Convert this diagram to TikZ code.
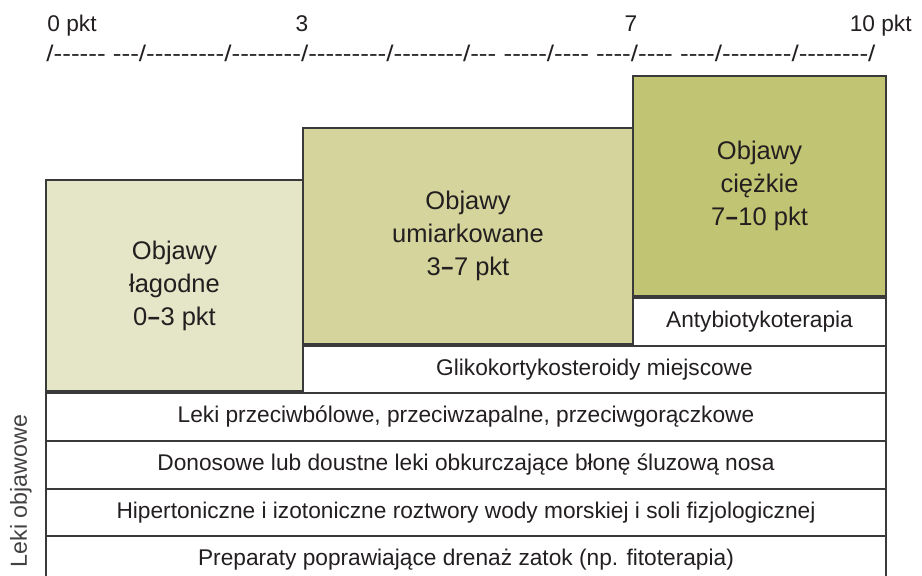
\documentclass[tikz,border=0pt]{standalone}
\usepackage{fontspec}
\usepackage{graphicx}
\setmainfont{Liberation Sans}
\newfontfamily\rulerfont{Liberation Sans}
\usetikzlibrary{positioning}

\definecolor{mildfill}{HTML}{E5E5C7}
\definecolor{modfill}{HTML}{D4D49C}
\definecolor{sevfill}{HTML}{C1C472}
\definecolor{edgegray}{HTML}{3A3A3A}
\definecolor{textgray}{HTML}{231F20}

% short heavy dash between the point values
\newcommand{\rngdash}{\kern0.3pt\scalebox{0.85}[1]{\textbf{–}}\kern0.3pt}

\tikzset{
    box/.style={draw=edgegray, line width=1pt, inner sep=0pt, anchor=north west,
        align=center, text=textgray, font=\fontsize{11.35}{14}\selectfont},
    stage/.style={box, font=\fontsize{12.75}{16.5}\selectfont},
    toplabel/.style={inner sep=0pt, text=textgray, font=\fontsize{11.35}{14}\selectfont}
}

\begin{document}
\begin{tikzpicture}[x=0.5pt,y=-0.5pt]
        \useasboundingbox (0,0) rectangle (922,576);

        % Draw the point scale
        \node[toplabel, anchor=base west] (lbl0) at (47,32) {0 pkt};
        \node[toplabel, anchor=base] (lbl3) at (302,32) {3};
        \node[toplabel, anchor=base] (lbl7) at (631,32) {7};
        \node[toplabel, anchor=base east] (lbl10) at (912,32) {10 pkt};
        \node[toplabel, anchor=base west] (ruler) at (46,62)
            {\resizebox{414.5pt}{\height}{\rulerfont /------ ---/---------/--------/---------/--------/--- -----/---- ----/---- ----/--------/--------/}};

        % Draw the severity boxes
        \node[stage, fill=mildfill, minimum width=128.5pt, minimum height=105.5pt] (mild) at (45,179)
            {Objawy\\łagodne\\0\rngdash3 pkt};
        \node[stage, fill=modfill, minimum width=165pt, minimum height=108pt] (moderate) at (302,127)
            {Objawy\\umiarkowane\\3\rngdash7 pkt};
        \node[stage, fill=sevfill, minimum width=126.5pt, minimum height=110pt] (severe) at (632,75)
            {Objawy\\ciężkie\\7\rngdash10 pkt};

        % Draw the treatment rows
        \node[box, fill=white, minimum width=126.5pt, minimum height=24pt] (antybiotyki) at (632,297)
            {Antybiotykoterapia};
        \node[box, fill=white, minimum width=291.5pt, minimum height=23.5pt] (gliko) at (302,345)
            {Glikokortykosteroidy miejscowe};
        \node[box, fill=white, minimum width=420pt, minimum height=24pt] (przeciwbolowe) at (45,392)
            {Leki przeciwbólowe, przeciwzapalne, przeciwgorączkowe};
        \node[box, fill=white, minimum width=420pt, minimum height=24pt] (donosowe) at (45,440)
            {Donosowe lub doustne leki obkurczające błonę śluzową nosa};
        \node[box, fill=white, minimum width=420pt, minimum height=23.5pt] (roztwory) at (45,488)
            {Hipertoniczne i izotoniczne roztwory wody morskiej i soli fizjologicznej};
        \node[box, fill=white, minimum width=420pt, minimum height=24pt] (preparaty) at (45,535)
            {Preparaty poprawiające drenaż zatok (np. fitoterapia)};

        % Side label
        \node[rotate=90, inner sep=0pt, text=textgray!85, font=\fontsize{11.6}{14}\selectfont] (objawowe) at (21,491)
            {Leki objawowe};
    \end{tikzpicture}
\end{document}
